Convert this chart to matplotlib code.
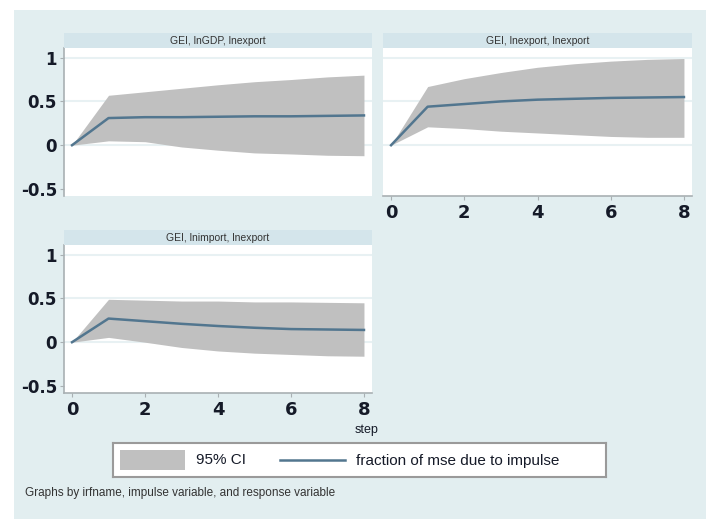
import matplotlib
matplotlib.use("Agg")
import matplotlib.pyplot as plt
from matplotlib.patches import Rectangle

W, H = 706, 519

steps = [0, 1, 2, 3, 4, 5, 6, 7, 8]

# FEVD of lnexport: impulse lnGDP
fevd_gdp = [0, 0.31, 0.32, 0.32, 0.325, 0.33, 0.33, 0.335, 0.34]
upper_gdp = [0, 0.57, 0.61, 0.65, 0.69, 0.725, 0.75, 0.78, 0.80]
lower_gdp = [0, 0.05, 0.04, -0.02, -0.057, -0.088, -0.10, -0.115, -0.12]

# impulse lnexport
fevd_exp = [0, 0.44, 0.47, 0.50, 0.52, 0.53, 0.54, 0.545, 0.55]
upper_exp = [0, 0.67, 0.76, 0.83, 0.89, 0.93, 0.96, 0.98, 0.99]
lower_exp = [0, 0.21, 0.19, 0.16, 0.14, 0.12, 0.10, 0.09, 0.09]

# impulse lnimport
fevd_imp = [0, 0.27, 0.24, 0.21, 0.185, 0.165, 0.15, 0.145, 0.14]
upper_imp = [0, 0.49, 0.48, 0.47, 0.47, 0.46, 0.46, 0.455, 0.45]
lower_imp = [0, 0.055, 0.0, -0.06, -0.10, -0.125, -0.14, -0.155, -0.16]

titles = ["GEI, lnGDP, lnexport", "GEI, lnexport, lnexport", "GEI, lnimport, lnexport"]
yticks = [-0.5, 0, 0.5, 1]
ytick_labels = ["-0.5", "0", "0.5", "1"]
xticks = [0, 2, 4, 6, 8]

BG = "#e2eef0"
STRIP = "#d4e5eb"
GRID = "#e8f1f3"
SPINE = "#a9b0b3"
LINE = "#52768f"
FILL = "#c0c0c0"
TXT = "#151a28"


def box(x0, y0, x1, y1):
    return [x0 / W, 1 - y1 / H, (x1 - x0) / W, (y1 - y0) / H]


fig = plt.figure(figsize=(W / 100, H / 100), dpi=100)
fig.patch.set_facecolor("white")
fig.patches.append(Rectangle((14 / W, 0), 1 - 14 / W, 1 - 10 / H,
                             transform=fig.transFigure, facecolor=BG,
                             edgecolor="none", zorder=-10))

panels = [
    (box(64, 48, 372, 196), fevd_gdp, upper_gdp, lower_gdp, True, False),
    (box(383, 48, 692, 196), fevd_exp, upper_exp, lower_exp, False, True),
    (box(64, 245, 372, 393), fevd_imp, upper_imp, lower_imp, True, True),
]

for (rect, mid, hi, lo, show_y, show_x), title in zip(panels, titles):
    ax = fig.add_axes(rect)
    ax.set_facecolor("white")
    ax.fill_between(steps, lo, hi, color=FILL, lw=0, zorder=2)
    ax.plot(steps, mid, color=LINE, lw=1.8, zorder=3)
    for g in [0, 0.5, 1]:
        ax.axhline(g, color=GRID, lw=1.5, zorder=1)
    ax.set_xlim(-0.22, 8.22)
    ax.set_ylim(-0.58, 1.11)
    for s in ax.spines.values():
        s.set_visible(False)
    ax.spines["left"].set_visible(show_y)
    ax.spines["bottom"].set_visible(show_x)
    ax.spines["left"].set_color(SPINE)
    ax.spines["bottom"].set_color(SPINE)
    ax.spines["left"].set_linewidth(1.2)
    ax.spines["bottom"].set_linewidth(1.2)
    ax.set_yticks(yticks)
    ax.set_xticks(xticks)
    if show_y:
        ax.set_yticklabels(ytick_labels, fontsize=12, fontweight="bold", color=TXT)
        ax.tick_params(axis="y", length=3, color=SPINE, pad=2)
    else:
        ax.tick_params(axis="y", left=False, labelleft=False)
    if show_x:
        ax.set_xticklabels([str(t) for t in xticks], fontsize=13, fontweight="bold", color=TXT)
        ax.tick_params(axis="x", length=3, color=SPINE, pad=3)
    else:
        ax.tick_params(axis="x", bottom=False, labelbottom=False)

    # title strip above each panel
    x0, y0, w, h = rect
    strip = fig.add_axes([x0, y0 + h, w, 15 / H])
    strip.set_facecolor(STRIP)
    strip.set_xticks([])
    strip.set_yticks([])
    for s in strip.spines.values():
        s.set_visible(False)
    strip.text(0.5, 0.45, title, ha="center", va="center", fontsize=7.5,
               color="#333333", family="Liberation Sans", transform=strip.transAxes)

fig.text(367 / W, 1 - 430 / H, "step", ha="center", va="center", fontsize=9,
         color=TXT, family="Liberation Sans")

# legend box
leg = fig.add_axes(box(113, 443, 606, 477))
leg.set_xlim(113, 606)
leg.set_ylim(477, 443)
leg.set_facecolor("white")
leg.set_xticks([])
leg.set_yticks([])
for s in leg.spines.values():
    s.set_color("#9a9a9a")
    s.set_linewidth(1.5)
leg.add_patch(Rectangle((120, 450), 65, 20, facecolor=FILL, edgecolor="none"))
leg.text(196, 460.5, "95% CI", va="center", fontsize=11, color=TXT,
         family="Liberation Sans")
leg.plot([280, 345], [460, 460], color=LINE, lw=1.8)
leg.text(356, 460.5, "fraction of mse due to impulse", va="center", fontsize=11,
         color=TXT, family="Liberation Sans")

fig.text(25 / W, 1 - 493 / H, "Graphs by irfname, impulse variable, and response variable",
         ha="left", va="center", fontsize=8.5, color="#333333", family="Liberation Sans")

fig.savefig("out.png", dpi=100)
